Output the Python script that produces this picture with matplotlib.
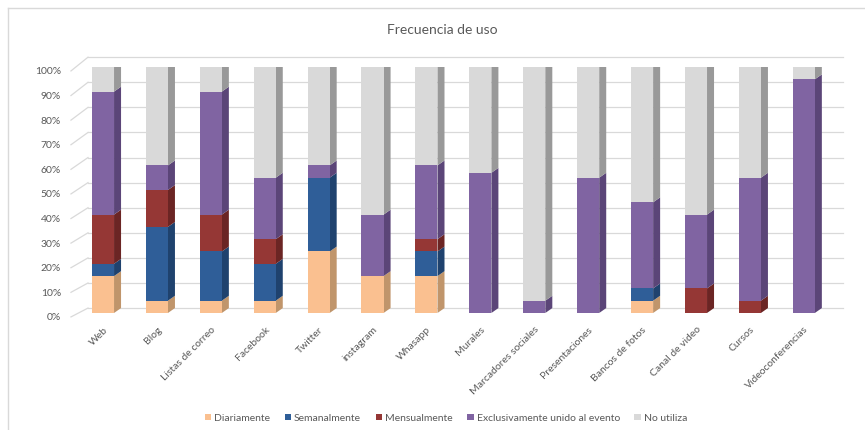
import matplotlib
matplotlib.use("Agg")
import matplotlib.pyplot as plt
from matplotlib.patches import Polygon, Patch
from matplotlib.lines import Line2D

plt.rcParams['font.family'] = ['Lato', 'DejaVu Sans']

categories = ["Web", "Blog", "Listas de correo", "Facebook", "Twitter", "instagram",
              "Whasapp", "Murales", "Marcadores sociales", "Presentaciones",
              "Bancos de fotos", "Canal de video", "Cursos", "Videoconferencias"]

series_names = ["Diariamente", "Semanalmente", "Mensualmente",
                "Exclusivamente unido al evento", "No utiliza"]

diariamente   = [15, 5, 5, 5, 25, 15, 15, 0, 0, 0, 5, 0, 0, 0]
semanalmente  = [5, 30, 20, 15, 30, 0, 10, 0, 0, 0, 5, 0, 0, 0]
mensualmente  = [20, 15, 15, 10, 0, 0, 5, 0, 0, 0, 0, 10, 5, 0]
exclusivo     = [50, 10, 50, 25, 5, 25, 30, 57, 5, 55, 35, 30, 50, 95]
no_utiliza    = [10, 40, 10, 45, 40, 60, 40, 43, 95, 45, 55, 60, 45, 5]

tick_values = [0, 10, 20, 30, 40, 50, 60, 70, 80, 90, 100]
tick_labels = ["0%", "10%", "20%", "30%", "40%", "50%", "60%", "70%", "80%", "90%", "100%"]

series = [diariamente, semanalmente, mensualmente, exclusivo, no_utiliza]
front_colors = ["#FAC090", "#2F5E98", "#953735", "#8064A2", "#D9D9D9"]
side_colors = ["#C0956B", "#1F426E", "#6B2524", "#5B4578", "#999999"]
top_colors = ["#E2AD80", "#2A5389", "#86302F", "#735A92", "#A6A6A6"]

text_color = "#595959"
grid_color = "#D9D9D9"

fig = plt.figure(figsize=(8.65, 4.31), dpi=100)
ax = fig.add_axes([0.0879, 0.2715, 0.8725, 0.5707])
ax.set_xlim(-0.5, 13.5)
ax.set_ylim(0, 100)
ax.axis("off")

# depth of the pseudo-3D extrusion, in data units
w = 0.41
ddx = 0.13
ddy = 2.0

# back-wall gridlines with the receding connectors on the left
for v, lab in zip(tick_values, tick_labels):
    back = 2.0 + v * 1.02
    front = v - 1.6
    ax.add_line(Line2D([-0.278, 13.73], [back, back], color=grid_color, lw=0.9,
                       clip_on=False, zorder=0))
    ax.add_line(Line2D([-0.594, -0.278], [front, back], color=grid_color, lw=0.9,
                       clip_on=False, zorder=0))
    ax.text(-0.78, front, lab, ha="right", va="center", fontsize=7.5,
            color=text_color, clip_on=False)

x = list(range(len(categories)))
for i in x:
    bottom = 0
    for s, vals in enumerate(series):
        h = vals[i]
        if h <= 0:
            continue
        ax.bar(i, h, width=w, bottom=bottom, color=front_colors[s], zorder=3,
               linewidth=0)
        xr = i + w / 2
        ax.add_patch(Polygon([(xr, bottom), (xr + ddx, bottom + ddy),
                              (xr + ddx, bottom + h + ddy), (xr, bottom + h)],
                             closed=True, facecolor=side_colors[s], lw=0, zorder=2))
        bottom += h
        top_s = s
    xl = i - w / 2
    xr = i + w / 2
    ax.add_patch(Polygon([(xl, bottom), (xl + ddx, bottom + ddy),
                          (xr + ddx, bottom + ddy), (xr, bottom)],
                         closed=True, facecolor=top_colors[top_s], lw=0, zorder=2))

for i, name in enumerate(categories):
    ax.text(i, -4.5, name, rotation=45, ha="right", va="top",
            rotation_mode="anchor", fontsize=7.5, color=text_color, clip_on=False)

fig.text(442 / 865, 1 - 30 / 431, "Frecuencia de uso", ha="center", va="center",
         fontsize=10, color=text_color)

handles = [Patch(facecolor=c, edgecolor="none") for c in front_colors]
fig.legend(handles, series_names, loc="center", bbox_to_anchor=(446 / 865, 1 - 419 / 431),
           ncol=5, frameon=False, fontsize=7.5, handlelength=0.6, handleheight=0.6,
           handletextpad=0.3, columnspacing=1.4, labelcolor=text_color)

# chart-area border (top and left edges)
fig.add_artist(Line2D([8 / 865, 1.0], [1 - 9 / 431, 1 - 9 / 431], transform=fig.transFigure,
                      color="#D9D9D9", lw=1))
fig.add_artist(Line2D([8 / 865, 8 / 865], [0.0, 1 - 9 / 431], transform=fig.transFigure,
                      color="#D9D9D9", lw=1))

fig.savefig("out.png", dpi=100, facecolor="white")
